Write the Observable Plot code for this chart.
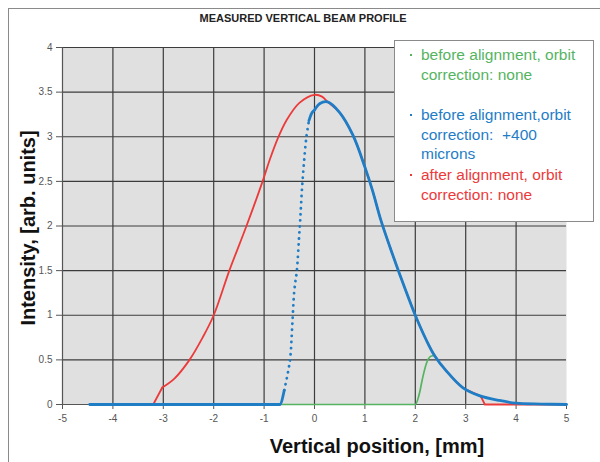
<!DOCTYPE html>
<html>
<head>
<meta charset="utf-8">
<script src="https://cdn.jsdelivr.net/npm/d3@7"></script>
<script src="https://cdn.jsdelivr.net/npm/@observablehq/plot@0.6"></script>
<style>
  body { margin: 0; background: #fff; }
  #wrap { position: relative; width: 600px; height: 462px; overflow: hidden; font-family: "Liberation Sans", Arial, sans-serif; }
  #border { position: absolute; left: 8px; top: 8px; width: 700px; height: 600px; border-left: 1.5px solid #8a8a8a; border-top: 1.5px solid #8a8a8a; }
  #title { position: absolute; left: 0; width: 606px; top: 12px; text-align: center; font-weight: bold; font-size: 11px; color: #222; }
  #ylabel { position: absolute; left: 28px; top: 228px; transform: translate(-50%, -50%) rotate(-90deg); white-space: nowrap; font-weight: bold; font-size: 20px; color: #111; }
  #xlabel { position: absolute; left: 377px; top: 446px; transform: translate(-50%, -50%); white-space: nowrap; font-weight: bold; font-size: 20px; color: #111; }
  #legend { position: absolute; left: 394px; top: 40px; width: 200px; height: 182px; box-sizing: border-box; background: #fff; border: 1.5px solid #8a8a8a; font-size: 15.5px; line-height: 19.5px; }
  .item { position: absolute; left: 26px; }
  .item::before { content: ""; position: absolute; left: -11px; top: 9px; width: 2px; height: 2px; background: currentColor; }
  #chart svg { position: absolute; left: 0; top: 0; }
</style>
</head>
<body>
<div id="wrap">
  <div id="border"></div>
  <div id="chart"></div>
  <div id="title"></div>
  <div id="ylabel"></div>
  <div id="xlabel"></div>
  <div id="legend"></div>
</div>
<script>
const titleText = "MEASURED VERTICAL BEAM PROFILE";
const xLabel = "Vertical position, [mm]";
const yLabel = "Intensity, [arb. units]";
const xTicks = [-5, -4, -3, -2, -1, 0, 1, 2, 3, 4, 5];
const yTicks = [0, 0.5, 1, 1.5, 2, 2.5, 3, 3.5, 4];

const seriesNames = [
  "before alignment, orbit\ncorrection: none",
  "before alignment,orbit\ncorrection:  +400\nmicrons",
  "after alignment, orbit\ncorrection: none"
];
const seriesColors = ["#55b45f", "#1f7dc6", "#ec3a3a"];

// green: before alignment, orbit correction none
const greenX = [-4.46, -0.69, 2.0, 2.08, 2.15, 2.22, 2.31, 2.39];
const greenY = [0, 0, 0, 0.12, 0.31, 0.46, 0.54, 0.55];

// blue: before alignment, orbit correction +400 microns
const blueX = [-4.46, -0.69, -0.6, -0.53, -0.48, -0.44, -0.4, -0.35, -0.31, -0.28, -0.25, -0.21, -0.16, -0.11, -0.05, 0, 0.1, 0.26, 0.5, 0.76, 1.0, 1.15, 1.32, 1.5, 1.69, 2.0, 2.22, 2.38, 2.61, 2.94, 3.27, 3.67, 4.0, 4.5, 5.0];
const blueY = [0, 0, 0.16, 0.35, 0.53, 0.9, 1.28, 1.5, 1.84, 2.1, 2.4, 2.7, 3.0, 3.18, 3.27, 3.3, 3.37, 3.39, 3.27, 3.02, 2.66, 2.4, 2.06, 1.76, 1.46, 1.0, 0.72, 0.55, 0.38, 0.19, 0.1, 0.045, 0.015, 0.005, 0.0];

// red: after alignment, orbit correction none
const redX = [-4.46, -3.2, -3.02, -2.78, -2.48, -2.22, -2.0, -1.69, -1.35, -1.03, -0.89, -0.73, -0.56, -0.3, 0, 0.15, 0.26, 0.5, 0.76, 1.0, 1.15, 1.32, 1.5, 1.69, 2.0, 2.22, 2.38, 2.61, 2.94, 3.27, 3.31, 3.38, 4.0, 5.0];
const redY = [0, 0, 0.19, 0.29, 0.5, 0.75, 1.0, 1.5, 2.0, 2.5, 2.74, 2.98, 3.18, 3.38, 3.47, 3.45, 3.39, 3.27, 3.02, 2.66, 2.4, 2.06, 1.76, 1.46, 1.0, 0.72, 0.55, 0.38, 0.19, 0.1, 0.08, 0, 0, 0];

const toRows = (xs, ys) => xs.map((x, i) => ({x, y: ys[i]}));
const green = toRows(greenX, greenY);
const blue = toRows(blueX, blueY);
const red = toRows(redX, redY);

const blueLow = blue.filter(d => d.x <= -0.6);
const blueRise = blue.filter(d => d.x >= -0.6 && d.x <= -0.11);
const blueHigh = blue.filter(d => d.x >= -0.11);

const redLeft = red.filter(d => d.x <= -3.02);
const redMid = red.filter(d => d.x >= -3.02 && d.x <= 3.31);
const redRight = red.filter(d => d.x >= 3.31);

const chart = Plot.plot({
  width: 600,
  height: 462,
  marginLeft: 62,
  marginRight: 34,
  marginTop: 47,
  marginBottom: 58,
  style: { fontFamily: "Liberation Sans, Arial, sans-serif", background: "transparent" },
  x: { domain: [-5, 5] },
  y: { domain: [0, 4] },
  marks: [
    Plot.frame({ fill: "#e0e0e0", stroke: null }),
    Plot.gridX({ ticks: xTicks.slice(1, -1), stroke: "#3c3c3c", strokeOpacity: 1, strokeWidth: 1.2 }),
    Plot.gridY({ ticks: yTicks.slice(1), stroke: "#3c3c3c", strokeOpacity: 1, strokeWidth: 1.2 }),
    Plot.axisX({ ticks: xTicks, tickSize: 5, tickPadding: 5, tickFormat: d => String(d), fontSize: 10, color: "#555", label: null }),
    Plot.axisY({ ticks: yTicks, tickSize: 6, tickPadding: 4, tickFormat: d => String(d), fontSize: 10, color: "#555", label: null }),
    Plot.ruleX([-5], { stroke: "#555", strokeWidth: 1.2 }),
    Plot.ruleY([0], { stroke: "#555", strokeWidth: 1.2 }),
    Plot.line(green, { x: "x", y: "y", stroke: seriesColors[0], strokeWidth: 1.7, curve: "monotone-x" }),
    Plot.line(redLeft, { x: "x", y: "y", stroke: seriesColors[2], strokeWidth: 1.8, strokeLinejoin: "round" }),
    Plot.line(redMid, { x: "x", y: "y", stroke: seriesColors[2], strokeWidth: 1.8, curve: "catmull-rom" }),
    Plot.line(redRight, { x: "x", y: "y", stroke: seriesColors[2], strokeWidth: 1.8, strokeLinejoin: "round" }),
    Plot.line(blueLow, { x: "x", y: "y", stroke: seriesColors[1], strokeWidth: 2.8, curve: "monotone-x" }),
    Plot.line(blueRise, { x: "x", y: "y", stroke: seriesColors[1], strokeWidth: 2.8, strokeLinecap: "round", strokeDasharray: "0.1,6", curve: "catmull-rom" }),
    Plot.line(blueHigh, { x: "x", y: "y", stroke: seriesColors[1], strokeWidth: 2.8, curve: "catmull-rom" })
  ]
});
document.getElementById("chart").appendChild(chart);

document.getElementById("title").textContent = titleText;
document.getElementById("xlabel").textContent = xLabel;
document.getElementById("ylabel").textContent = yLabel;

const legend = document.getElementById("legend");
const legendTops = [4, 64, 124];
seriesNames.forEach((name, i) => {
  const div = document.createElement("div");
  div.className = "item";
  div.style.top = legendTops[i] + "px";
  div.style.color = seriesColors[i];
  div.innerHTML = name.split("\n").map(s => s.replace(/ {2}/g, " &nbsp;")).join("<br>");
  legend.appendChild(div);
});
</script>
</body>
</html>
